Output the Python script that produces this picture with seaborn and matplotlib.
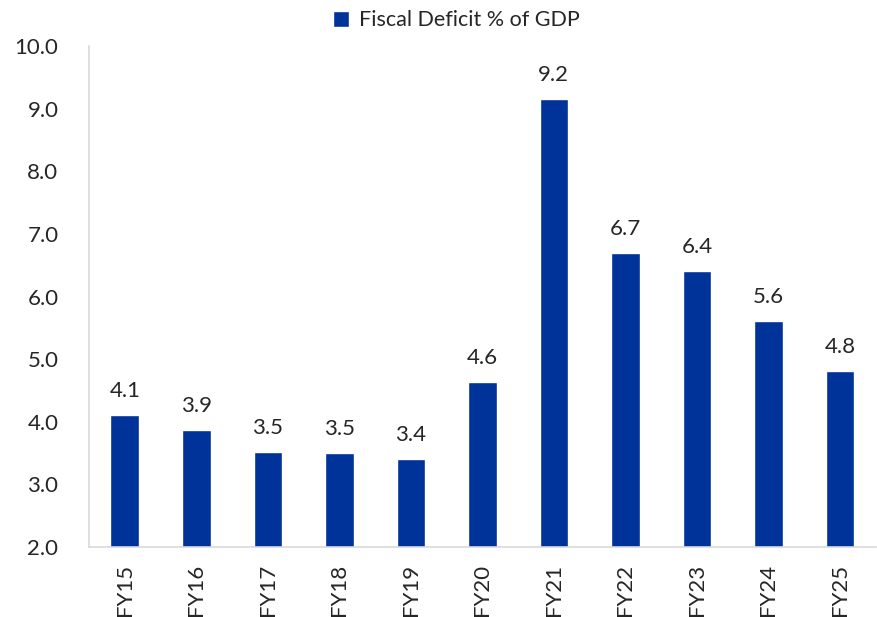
import pandas as pd
import seaborn as sns
import matplotlib.pyplot as plt
from matplotlib.patches import Patch

# dane
years = ["FY15", "FY16", "FY17", "FY18", "FY19", "FY20",
         "FY21", "FY22", "FY23", "FY24", "FY25"]
deficit = [4.11, 3.87, 3.52, 3.50, 3.41, 4.64, 9.16, 6.70, 6.41, 5.61, 4.81]

df = pd.DataFrame({"year": years, "deficit": deficit})

sns.set_style("white")
plt.rcParams["font.family"] = ["Lato", "DejaVu Sans"]

bar_color = "#003399"

fig = plt.figure(figsize=(8.77, 6.17), dpi=100)
ax = fig.add_axes([0.1015, 0.1135, 0.897, 0.8115])

sns.barplot(data=df, x="year", y="deficit", color=bar_color,
            width=0.4, saturation=1, ax=ax)

ax.bar_label(ax.containers[0], fmt="%.1f", padding=10, fontsize=16)

ax.set_ylim(2.0, 10.0)
ax.set_yticks([2, 3, 4, 5, 6, 7, 8, 9, 10])
ax.set_yticklabels([f"{v:.1f}" for v in range(2, 11)])
ax.set_xlim(-0.5, 10.5)
ax.set_xlabel("")
ax.set_ylabel("")
ax.tick_params(axis="both", labelsize=16, length=0)
ax.tick_params(axis="y", pad=22)
ax.tick_params(axis="x", pad=12)
plt.setp(ax.get_xticklabels(), rotation=90)

for side in ["top", "right"]:
    ax.spines[side].set_visible(False)
for side in ["left", "bottom"]:
    ax.spines[side].set_color("#d9d9d9")
    ax.spines[side].set_linewidth(1.2)

handles = [Patch(facecolor=bar_color, label="Fiscal Deficit % of GDP")]
fig.legend(handles=handles, loc="center", bbox_to_anchor=(0.52, 0.967),
           frameon=False, fontsize=15.5, handlelength=0.75, handleheight=0.75,
           handletextpad=0.45)

plt.savefig("out.png", dpi=100)
